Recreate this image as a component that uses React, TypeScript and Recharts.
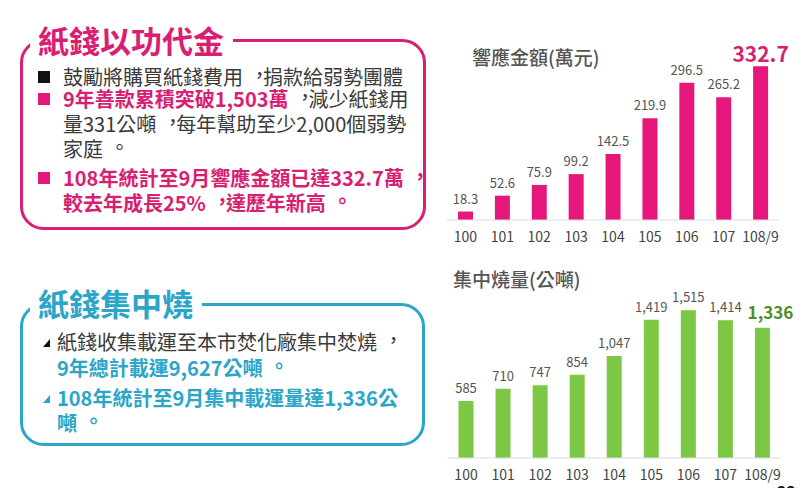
import React from 'react';
import { BarChart, Bar, XAxis, YAxis, LabelList } from 'recharts';

const years = ['100', '101', '102', '103', '104', '105', '106', '107', '108/9'];
const donationValues = [18.3, 52.6, 75.9, 99.2, 142.5, 219.9, 296.5, 265.2, 332.7];
const burnValues = [585, 710, 747, 854, 1047, 1419, 1515, 1414, 1336];
const donationTitle = '響應金額(萬元)';
const burnTitle = '集中燒量(公噸)';

const PINK_BAR = '#e5177b';
const PINK_TEXT = '#d81f73';
const GREEN_BAR = '#7cc743';
const GREEN_TEXT = '#4e8d24';
const BLUE = '#2ba6c9';
const GRAY = '#3a3a3a';
const FONT = '"Noto Sans CJK TC", "Noto Sans", sans-serif';

const donationData = years.map((y, i) => ({ year: y, value: donationValues[i] }));
const burnData = years.map((y, i) => ({ year: y, value: burnValues[i] }));

const fmt = (v: number) => v.toLocaleString('en-US');

function makeLabel(last: number, bigColor: string, bigSize: number, bigOffset: number, dx: number, formatter: (v: number) => string) {
  return (props: any) => {
    const { x, y, width, value, index } = props;
    const cx = Number(x) + Number(width) / 2;
    if (index === last) {
      return (
        <text x={cx + dx} y={Number(y) - bigOffset} textAnchor="middle" fill={bigColor} fontSize={bigSize} fontWeight={700} fontFamily={FONT}>
          {formatter(value)}
        </text>
      );
    }
    return (
      <text x={cx} y={Number(y) - 8} textAnchor="middle" fill="#555" fontSize={13} fontFamily={FONT}>
        {formatter(value)}
      </text>
    );
  };
}

type Seg = { t: string; c?: string; b?: boolean };

// render full-width punctuation centred in its cell, Taiwan style
function renderPunct(text: string) {
  const parts = text.split(/([，。])/);
  return parts.map((p, i) =>
    p === '，' || p === '。' ? (
      <span key={i} style={{ display: 'inline-block', transform: 'translate(0.32em, -0.12em)' }}>{p}</span>
    ) : (
      <React.Fragment key={i}>{p}</React.Fragment>
    )
  );
}

function Line({ left, cy, segs, size = 20 }: { left: number; cy: number; segs: Seg[]; size?: number }) {
  return (
    <div style={{ position: 'absolute', left, top: cy - 15, height: 30, lineHeight: '30px', fontSize: size, whiteSpace: 'nowrap', fontFamily: FONT }}>
      {segs.map((s, i) => (
        <span key={i} style={{ color: s.c || GRAY, fontWeight: s.b ? 700 : 400 }}>{renderPunct(s.t)}</span>
      ))}
    </div>
  );
}

function Square({ left, cy, color }: { left: number; cy: number; color: string }) {
  return <div style={{ position: 'absolute', left, top: cy - 6, width: 12, height: 12, background: color }} />;
}

function Tri({ left, cy, color }: { left: number; cy: number; color: string }) {
  return (
    <div style={{ position: 'absolute', left, top: cy - 3, width: 7, height: 8, background: color, clipPath: 'polygon(100% 0, 100% 100%, 0 100%)' }} />
  );
}

export default function App() {
  return (
    <div lang="zh-Hant-TW" style={{ position: 'fixed', left: 0, top: 0, width: 800, height: 488, background: '#fff', overflow: 'hidden', fontFamily: FONT }}>
      <svg width={800} height={488} style={{ position: 'absolute', left: 0, top: 0 }}>
        <rect x={21.5} y={40.5} width={403} height={188} rx={22} ry={22} fill="none" stroke={PINK_TEXT} strokeWidth={3} />
        <rect x={21.5} y={304.5} width={402} height={140} rx={22} ry={22} fill="none" stroke={BLUE} strokeWidth={3} />
      </svg>

      {/* Pink box */}
      <div style={{ position: 'absolute', left: 30, top: 18, height: 44, lineHeight: '44px', padding: '0 9px 0 8px', background: '#fff', fontSize: 31, fontWeight: 700, color: PINK_TEXT, whiteSpace: 'nowrap' }}>
        紙錢以功代金
      </div>
      <Square left={38} cy={77} color="#111" />
      <Line left={63} cy={77} segs={[{ t: '鼓勵將購買紙錢費用，捐款給弱勢團體' }]} />
      <Square left={38} cy={99} color={PINK_BAR} />
      <Line left={63} cy={99} segs={[{ t: '9年善款累積突破1,503萬', c: PINK_TEXT, b: true }, { t: '，減少紙錢用' }]} />
      <Line left={63} cy={124} segs={[{ t: '量331公噸，每年幫助至少2,000個弱勢' }]} />
      <Line left={63} cy={149} segs={[{ t: '家庭。' }]} />
      <Square left={38} cy={178} color={PINK_BAR} />
      <Line left={63} cy={178} segs={[{ t: '108年統計至9月響應金額已達332.7萬，', c: PINK_TEXT, b: true }]} />
      <Line left={63} cy={203} segs={[{ t: '較去年成長25%，達歷年新高。', c: PINK_TEXT, b: true }]} />

      {/* Blue box */}
      <div style={{ position: 'absolute', left: 30, top: 281, height: 44, lineHeight: '44px', padding: '0 9px 0 8px', background: '#fff', fontSize: 31, fontWeight: 700, color: BLUE, whiteSpace: 'nowrap' }}>
        紙錢集中燒
      </div>
      <Tri left={43} cy={342} color="#111" />
      <Line left={57} cy={342} segs={[{ t: '紙錢收集載運至本市焚化廠集中焚燒，' }]} />
      <Line left={57} cy={368} segs={[{ t: '9年總計載運9,627公噸。', c: BLUE, b: true }]} />
      <Tri left={43} cy={398} color={BLUE} />
      <Line left={57} cy={398} segs={[{ t: '108年統計至9月集中載運量達1,336公', c: BLUE, b: true }]} />
      <Line left={57} cy={423} segs={[{ t: '噸。', c: BLUE, b: true }]} />

      {/* Chart titles */}
      <div style={{ position: 'absolute', left: 472, top: 43, height: 28, lineHeight: '28px', fontSize: 19, color: '#555', fontWeight: 500, whiteSpace: 'nowrap' }}>{donationTitle}</div>
      <div style={{ position: 'absolute', left: 453, top: 265, height: 28, lineHeight: '28px', fontSize: 19, color: '#555', fontWeight: 500, whiteSpace: 'nowrap' }}>{burnTitle}</div>

      {/* Donation chart */}
      <div style={{ position: 'absolute', left: 430, top: 0 }}>
        <BarChart width={370} height={250} data={donationData} margin={{ top: 35, right: 21, bottom: 0, left: 17 }} barCategoryGap={0}>
          <XAxis dataKey="year" height={30} axisLine={{ stroke: '#dcdcdc' }} tickLine={false} tickSize={6} tickMargin={6} interval={0} tick={{ fill: '#444', fontSize: 14, fontFamily: FONT }} />
          <YAxis hide domain={[0, 400]} />
          <Bar dataKey="value" fill={PINK_BAR} barSize={15} isAnimationActive={false}>
            <LabelList dataKey="value" content={makeLabel(8, PINK_TEXT, 21, 4, 0, (v) => String(v))} />
          </Bar>
        </BarChart>
      </div>

      {/* Burn chart */}
      <div style={{ position: 'absolute', left: 430, top: 250 }}>
        <BarChart width={370} height={238} data={burnData} margin={{ top: 13, right: 19, bottom: 0, left: 17.5 }} barCategoryGap={0}>
          <XAxis dataKey="year" height={30} axisLine={{ stroke: '#dcdcdc' }} tickLine={false} tickSize={6} tickMargin={6} interval={0} tick={{ fill: '#444', fontSize: 14, fontFamily: FONT }} />
          <YAxis hide domain={[0, 2000]} />
          <Bar dataKey="value" fill={GREEN_BAR} barSize={15} isAnimationActive={false}>
            <LabelList dataKey="value" content={makeLabel(8, GREEN_TEXT, 17, 9, 8, fmt)} />
          </Bar>
        </BarChart>
      </div>

      <div style={{ position: 'absolute', left: 777, top: 481, fontSize: 16, fontWeight: 700, color: '#111', lineHeight: '20px' }}>22</div>
    </div>
  );
}
